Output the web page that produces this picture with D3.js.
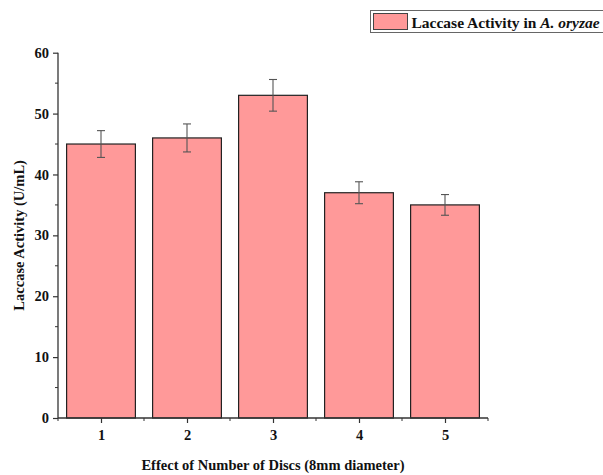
<!DOCTYPE html>
<html>
<head>
<meta charset="utf-8">
<script src="https://cdn.jsdelivr.net/npm/d3@7"></script>
<style>
  body { margin: 0; background: #fff; }
  svg text { font-family: "Liberation Serif", "Times New Roman", serif; font-weight: bold; fill: #111; }
</style>
</head>
<body>
<svg id="chart" width="603" height="475"></svg>
<script>
// Laccase activity vs number of discs, bars with error bars
const discs = [1, 2, 3, 4, 5];
const activity = [45, 46, 53, 37, 35];
const errors = [2.2, 2.3, 2.6, 1.8, 1.7];
const yTicks = [0, 10, 20, 30, 40, 50, 60];

const svg = d3.select("#chart");
const margin = { left: 58, right: 115, top: 52.7, bottom: 57 };
const W = 603, H = 475;

const x = d3.scaleLinear().domain([0.5, 5.5]).range([margin.left, W - margin.right]);
const y = d3.scaleLinear().domain([0, 60]).range([H - margin.bottom, margin.top]);
const bw = (x(1) - x(0)) * 0.8;

// bars
svg.append("g").selectAll("rect")
  .data(discs)
  .join("rect")
  .attr("x", (d) => x(d) - bw / 2)
  .attr("y", (d, i) => y(activity[i]))
  .attr("width", bw)
  .attr("height", (d, i) => y(0) - y(activity[i]))
  .attr("fill", "#ff9999")
  .attr("stroke", "#222")
  .attr("stroke-width", 1.2);

// error bars
const eb = svg.append("g").attr("stroke", "#555").attr("stroke-width", 1.1);
discs.forEach((d, i) => {
  const cx = x(d), hi = y(activity[i] + errors[i]), lo = y(activity[i] - errors[i]);
  eb.append("line").attr("x1", cx).attr("x2", cx).attr("y1", hi).attr("y2", lo);
  eb.append("line").attr("x1", cx - 4).attr("x2", cx + 4).attr("y1", hi).attr("y2", hi);
  eb.append("line").attr("x1", cx - 4).attr("x2", cx + 4).attr("y1", lo).attr("y2", lo);
});

// y axis
const yAxis = svg.append("g").attr("transform", `translate(${margin.left},0)`)
  .call(d3.axisLeft(y).tickValues(yTicks).tickSize(5).tickPadding(4).tickFormat(d3.format("d")));
yAxis.append("g").selectAll("line")
  .data(d3.range(5, 60, 10))
  .join("line")
  .attr("x1", 0).attr("x2", -3).attr("y1", (d) => y(d)).attr("y2", (d) => y(d))
  .attr("stroke", "#333");

// x axis
const xAxis = svg.append("g").attr("transform", `translate(0,${y(0)})`)
  .call(d3.axisBottom(x).tickValues(discs).tickSize(5).tickPadding(7).tickFormat(d3.format("d")));
xAxis.append("g").selectAll("line")
  .data([0.5, 1.5, 2.5, 3.5, 4.5, 5.5])
  .join("line")
  .attr("x1", (d) => x(d)).attr("x2", (d) => x(d)).attr("y1", 0).attr("y2", 3)
  .attr("stroke", "#333");

[yAxis, xAxis].forEach((a) => {
  a.select(".domain").attr("stroke", "#333").attr("stroke-width", 1.3);
  a.selectAll(".tick line").attr("stroke", "#333").attr("stroke-width", 1.2);
  a.selectAll(".tick text").attr("font-size", 14.5).attr("font-family", null).attr("fill", "#111");
});
yAxis.select(".domain").attr("d", `M0,${y(0)}V${y(60)}`);
xAxis.select(".domain").attr("d", `M${x(0.5)},0H${x(5.5)}`);

// axis titles
svg.append("text")
  .attr("transform", `translate(24,${(y(0) + y(60)) / 2}) rotate(-90)`)
  .attr("text-anchor", "middle")
  .attr("font-size", 14.5)
  .text("Laccase Activity (U/mL)");

svg.append("text")
  .attr("x", (x(0.5) + x(5.5)) / 2)
  .attr("y", 470)
  .attr("text-anchor", "middle")
  .attr("font-size", 14.5)
  .text("Effect of Number of Discs (8mm diameter)");

// legend
const lg = svg.append("g");
lg.append("rect").attr("x", 370.5).attr("y", 10.5).attr("width", 240).attr("height", 22)
  .attr("fill", "#fff").attr("stroke", "#666").attr("stroke-width", 1);
lg.append("rect").attr("x", 373.5).attr("y", 13.5).attr("width", 34).attr("height", 16)
  .attr("fill", "#ff9999").attr("stroke", "#444");
const lt = lg.append("text").attr("x", 411.5).attr("y", 27.5).attr("font-size", 15.5);
lt.append("tspan").text("Laccase Activity in ");
lt.append("tspan").attr("font-style", "italic").text("A. oryzae");
</script>
</body>
</html>
